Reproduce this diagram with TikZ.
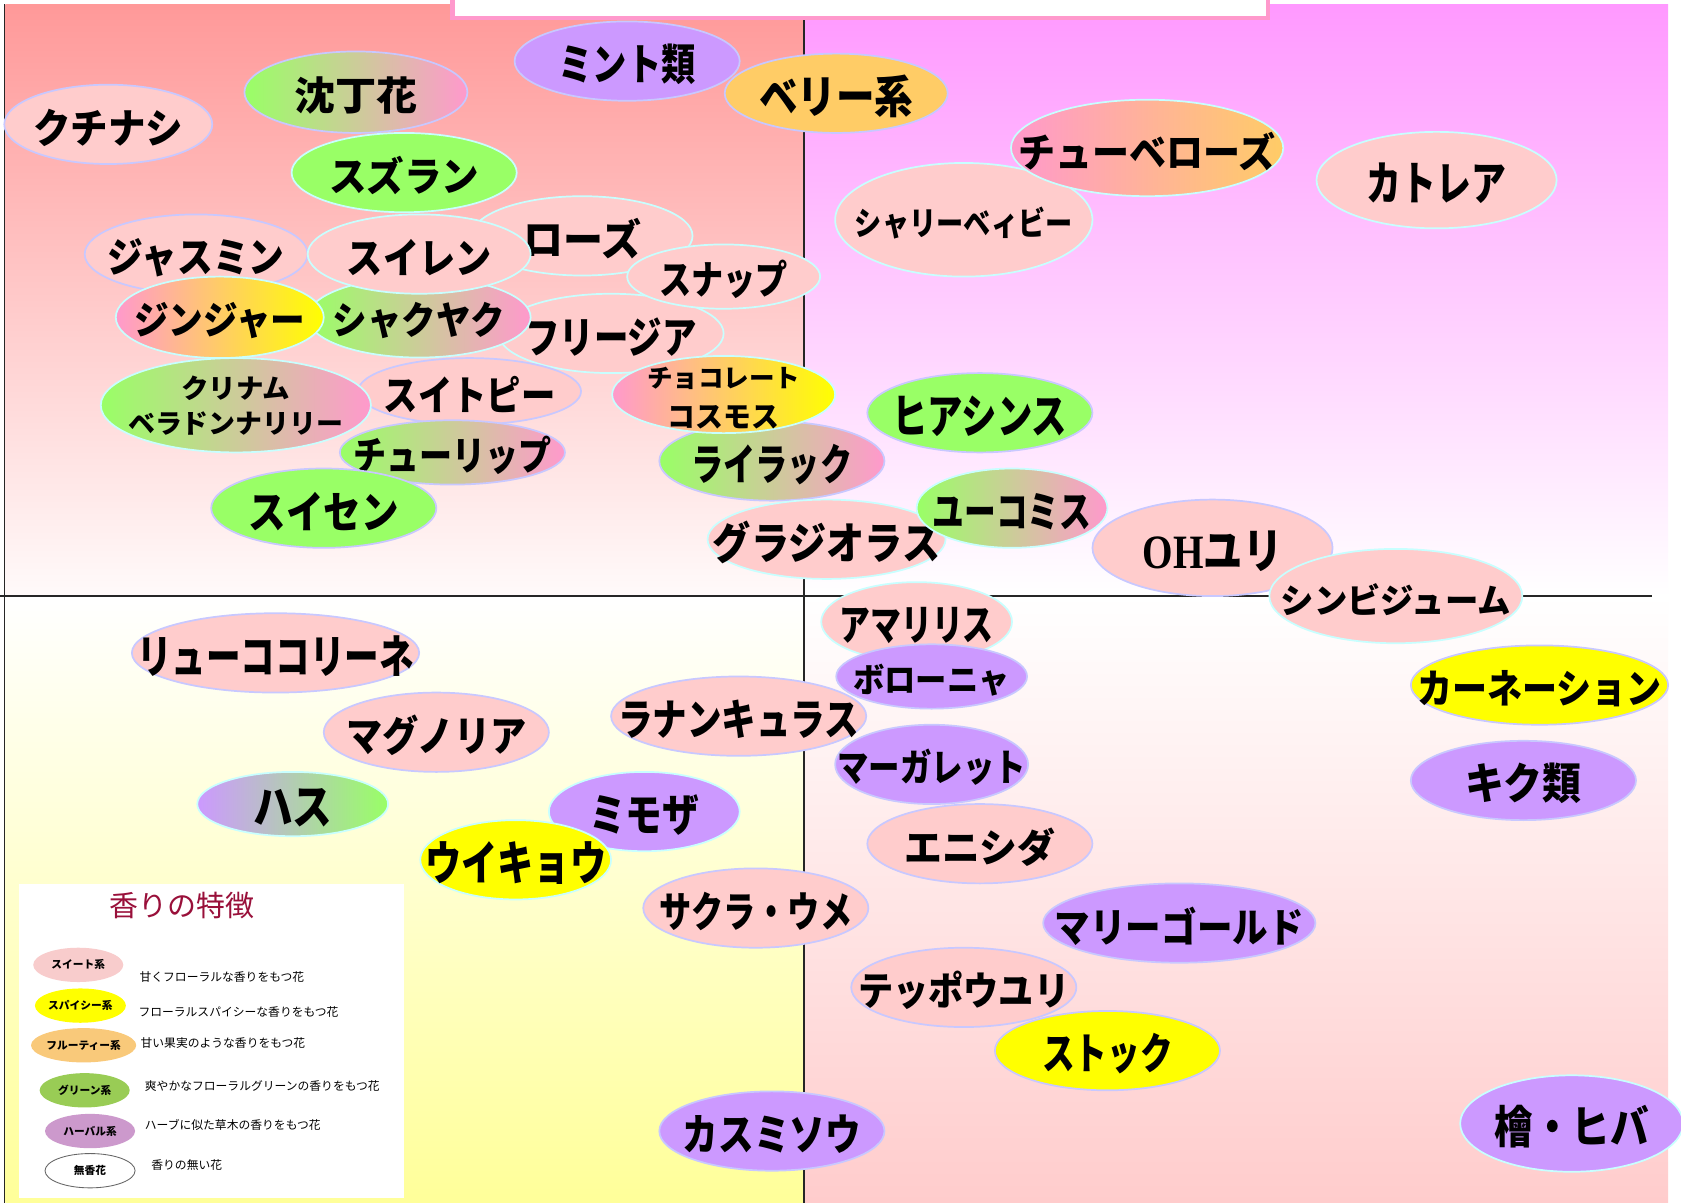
\documentclass[tikz,border=0pt]{standalone}
\usepackage{fontspec}
\usepackage{graphicx}
\usetikzlibrary{shapes.geometric}
\IfFontExistsTF{Noto Sans CJK JP Black}
  {\newfontfamily\jpb{Noto Sans CJK JP Black}}
  {\newfontfamily\jpb{Noto Sans CJK JP Bold}}
\newfontfamily\jpr{Noto Sans CJK JP}
\newfontfamily\serb{Liberation Serif}
\definecolor{sweet}{HTML}{FFCCCC}
\definecolor{spicy}{HTML}{FFFF00}
\definecolor{fruity}{HTML}{FFCC66}
\definecolor{grn}{HTML}{99FF66}
\definecolor{herb}{HTML}{CC99FF}
\definecolor{pnk}{HTML}{FF99CC}
\definecolor{bdl}{HTML}{C8C8FF}
\definecolor{bdc}{HTML}{C8FFFF}
\definecolor{lgsweet}{HTML}{F8CCCC}
\definecolor{lgfruit}{HTML}{F9C97A}
\definecolor{lggreen}{HTML}{99CC55}
\definecolor{lgherb}{HTML}{CC99CC}
\definecolor{crimson}{HTML}{99103A}
\newsavebox\tbox
% \fit[down-shift]{width}{height}{text}: text scaled to the given size, centred on the node
\newcommand\fit[4][3]{\sbox\tbox{\resizebox*{#2pt}{#3pt}{#4}}\makebox[0pt]{\raisebox{\dimexpr(\dp\tbox-\ht\tbox)/2-#1pt\relax}[0pt][0pt]{\usebox\tbox}}}
\tikzset{
  el/.style={ellipse, inner sep=0pt, line width=1.6pt, draw=bdl, font=\jpb},
  sz/.style 2 args={minimum width=#1pt, minimum height=#2pt},
  cy/.style={draw=bdc},
  sw/.style={el, fill=sweet},
  sp/.style={el, fill=spicy},
  fr/.style={el, fill=fruity},
  gr/.style={el, fill=grn},
  hb/.style={el, fill=herb},
  gp/.style={el, left color=grn, right color=pnk},
  py/.style={el, left color=pnk, right color=spicy},
  po/.style={el, left color=pnk, right color=fruity},
  hg/.style={el, left color=herb, right color=grn},
  lg/.style={ellipse, inner sep=0pt, minimum width=84pt, minimum height=32pt, font=\jpb\fontsize{10}{12}\selectfont},
  lt/.style={anchor=west, inner sep=0pt, font=\jpr\fontsize{11}{13}\selectfont},
  axis/.style={line width=1.4pt, draw=black!85}
}
\begin{document}
\begin{tikzpicture}[x=1pt,y=-1pt]
\useasboundingbox (0,0) rectangle (1568,1122);
\fill[white] (0,0) rectangle (1568,1122);
% quadrant backgrounds
\shade[top color={rgb,255:red,255;green,153;blue,153}, bottom color={rgb,255:red,255;green,250;blue,250}] (5,4) rectangle (750,556);
\shade[top color={rgb,255:red,255;green,153;blue,255}, bottom color=white] (750,4) rectangle (1556,556);
\shade[top color=white, bottom color={rgb,255:red,255;green,255;blue,153}] (5,556) rectangle (750,1122);
\shade[top color=white, bottom color={rgb,255:red,255;green,204;blue,204}] (750,556) rectangle (1556,1122);
% title box
\node[draw=pnk, line width=4pt, fill=white, minimum width=761pt, minimum height=30pt, inner sep=0pt] (title) at (802.5,2) {};
% axes
\coordinate (lt) at (4,4); \coordinate (lb) at (4,1122);
\coordinate (hl) at (0,556); \coordinate (hr) at (1541,556);
\coordinate (vt) at (750,19); \coordinate (vb) at (750,1122);
\draw[axis] (lt) -- (lb);
\draw[axis] (hl) -- (hr);
\draw[axis, line width=1.2pt] (vt) -- (vb);

% ---- upper left / upper right
\node[sw, sz={194}{74}] (kuchi) at (101,116) {\fit{140}{35}{クチナシ}};
\node[gp, sz={208}{76}] (jinchoge) at (332,86) {\fit{115}{35}{沈丁花}};
\node[hb, sz={210}{74}] (mint) at (585,57) {\fit{128}{38}{ミント類}};
\node[fr, sz={208}{74}] (berry) at (780,87) {\fit{144}{40}{ベリー系}};
\node[gr, cy, sz={210}{74}] (suzuran) at (377,161) {\fit{140}{36}{スズラン}};
\node[sw, sz={208}{74}] (jasmine) at (183,237) {\fit{165}{36}{ジャスミン}};
\node[sw, cy, sz={206}{74}] (rose) at (543,220) {\fit{110}{38}{ローズ}};
\node[sw, cy, sz={210}{74}] (freesia) at (570,311) {\fit{160}{36}{フリージア}};
\node[gp, cy, sz={208}{75}] (shakuyaku) at (391,296) {\fit{161}{34}{シャクヤク}};
\node[sw, cy, sz={208}{74}] (suiren) at (391,237) {\fit{135}{34}{スイレン}};
\node[sw, cy, sz={180}{60}] (snap) at (675,258) {\fit{120}{36}{スナップ}};
\node[py, cy, sz={194}{76}] (ginger) at (205,296) {\fit{160}{34}{ジンジャー}};
\node[sw, sz={208}{62}] (sweetpea) at (438,365) {\fit{160}{34}{スイトピー}};
\node[gp, cy, sz={252}{88}] (crinum) at (220,378) {\fit[-16]{102}{23}{クリナム}\fit[17]{201}{22}{ベラドンナリリー}};
\node[gp, sz={210}{60}] (tulip) at (422,422) {\fit{185}{36}{チューリップ}};
\node[gp, sz={210}{74}] (lilac) at (720,430) {\fit{150}{38}{ライラック}};
\node[py, cy, sz={208}{72}] (choco) at (675,368) {\fit[-15]{143}{21}{チョコレート}\fit[21]{104}{22}{コスモス}};
\node[gr, sz={210}{74}] (suisen) at (302,474) {\fit{140}{36}{スイセン}};
\node[sw, cy, sz={222}{74}] (gladiolus) at (771,503) {\fit{212}{40}{グラジオラス}};
\node[gr, sz={210}{74}] (hyacinth) at (914,385) {\fit{163}{38}{ヒアシンス}};
\node[gp, cy, sz={178}{74}] (eucomis) at (944,474) {\fit{148}{34}{ユーコミス}};
\node[sw, cy, sz={240}{106}] (shirley) at (899,205) {\fit{203}{30}{シャリーベィビー}};
\node[po, cy, sz={254}{90}] (tuberose) at (1070,138) {\fit{240}{36}{チューベローズ}};
\node[sw, cy, sz={224}{90}] (cattleya) at (1340,168) {\fit{130}{38}{カトレア}};
\node[sw, sz={224}{90}] (ohyuri) at (1131,511) {\fit{130}{38}{{\serb\bfseries OH}ユリ}};
\node[sw, cy, sz={236}{88}] (cymbidium) at (1302,556) {\fit{215}{30}{シンビジューム}};

% ---- lower half
\node[sw, cy, sz={178}{74}] (amaryllis) at (855,580) {\fit{144}{34}{アマリリス}};
\node[sw, sz={268}{74}] (leuco) at (257,609) {\fit{258}{38}{リューココリーネ}};
\node[hb, sz={178}{60}] (boronia) at (869,631) {\fit{146}{30}{ボローニャ}};
\node[sp, sz={240}{74}] (carnation) at (1436,639) {\fit{228}{34}{カーネーション}};
\node[sw, sz={238}{74}] (ranunculus) at (689,668) {\fit{225}{36}{ラナンキュラス}};
\node[sw, sz={210}{74}] (magnolia) at (407,683) {\fit{168}{38}{マグノリア}};
\node[hb, sz={180}{74}] (marguerite) at (869,713) {\fit{176}{34}{マーガレット}};
\node[hb, sz={210}{74}] (kiku) at (1421,728) {\fit{109}{38}{キク類}};
\node[hg, cy, sz={178}{60}] (hasu) at (273,750) {\fit{74}{36}{ハス}};
\node[hb, cy, sz={178}{74}] (mimosa) at (601,757) {\fit{103}{38}{ミモザ}};
\node[sp, cy, sz={178}{74}] (uikyo) at (481,802) {\fit{169}{40}{ウイキョウ}};
\node[sw, sz={210}{74}] (enishida) at (914,787) {\fit{141}{36}{エニシダ}};
\node[sw, sz={210}{74}] (sakura) at (705,847) {\fit{180}{36}{サクラ・ウメ}};
\node[hb, sz={254}{74}] (marigold) at (1100,861) {\fit{232}{36}{マリーゴールド}};
\node[sw, sz={210}{74}] (teppou) at (899,921) {\fit{197}{36}{テッポウユリ}};
\node[sp, sz={210}{74}] (stock) at (1033,980) {\fit{122}{38}{ストック}};
\node[hb, sz={210}{74}] (kasumi) at (720,1055) {\fit{166}{36}{カスミソウ}};
\node[hb, cy, sz={208}{90}] (hiba) at (1466,1048) {\fit{144}{40}{檜・ヒバ}};

% ---- legend
\node[fill=white, minimum width=359pt, minimum height=292pt, inner sep=0pt] (legend) at (197.5,971) {};
\node[font=\jpr\fontsize{27}{30}\selectfont, text=crimson, inner sep=0pt] (legtitle) at (170,845) {香りの特徴};
\node[lg, fill=lgsweet] (l1) at (73,900) {スイート系};
\node[lg, fill=spicy] (l2) at (75,938) {スパイシー系};
\node[lg, fill=lgfruit] (l3) at (78,975) {フルーティー系};
\node[lg, fill=lggreen] (l4) at (79,1017) {グリーン系};
\node[lg, fill=lgherb] (l5) at (84,1055) {ハーバル系};
\node[lg, fill=white, draw=black!60, line width=0.8pt] (l6) at (84,1092) {無香花};
\node[lt] (d1) at (130,911) {甘くフローラルな香りをもつ花};
\node[lt] (d2) at (129,944) {フローラルスパイシーな香りをもつ花};
\node[lt] (d3) at (131,973) {甘い果実のような香りをもつ花};
\node[lt] (d4) at (135,1013) {爽やかなフローラルグリーンの香りをもつ花};
\node[lt] (d5) at (135,1049) {ハーブに似た草木の香りをもつ花};
\node[lt] (d6) at (141,1087) {香りの無い花};
\end{tikzpicture}
\end{document}
